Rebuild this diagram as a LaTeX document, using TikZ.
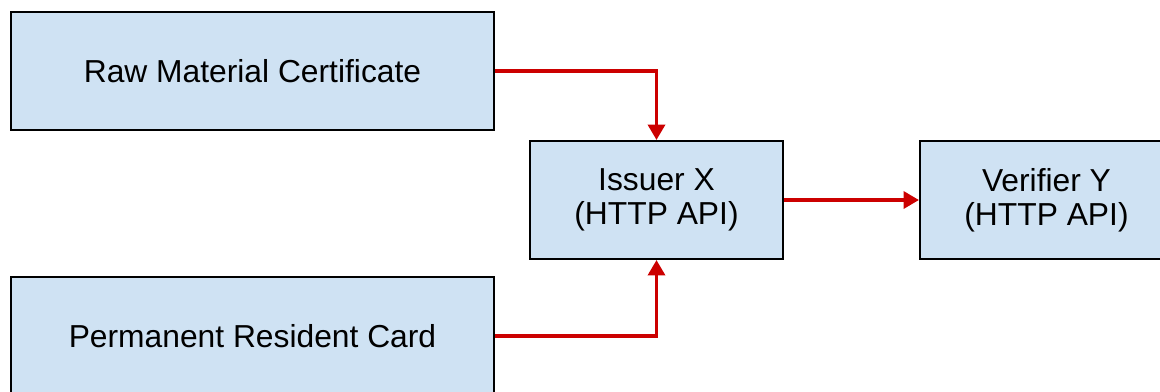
\documentclass[tikz,border=0pt]{standalone}
\usepackage{fontspec}
\setmainfont{Liberation Sans}
\usetikzlibrary{arrows.meta}

\definecolor{boxblue}{RGB}{207,226,243}
\definecolor{flowred}{RGB}{204,0,0}

\begin{document}
\begin{tikzpicture}[x=0.025cm, y=-0.025cm,
  every node/.style = {shape=rectangle, draw=black, line width=1.4pt,
    fill=boxblue, align=center, inner sep=0pt,
    minimum height=118*0.025cm,
    font=\fontsize{22.6}{24.2}\selectfont},
  wide/.style = {minimum width=483*0.025cm},
  narrow/.style = {minimum width=253*0.025cm},
  flow/.style = {draw=flowred, line width=2.7pt,
    -{Triangle[length=11pt, width=12pt]}}]
  \clip (0,0) rectangle (1160,391);
  \node[wide] (rmc) at (252.5,71) {Raw Material Certificate};
  \node[wide] (prc) at (252.5,336) {Permanent Resident Card};
  \node[narrow] (iss) at (656.5,200) {Issuer X\\ (HTTP API)};
  \node[narrow] (ver) at (1046.5,200) {Verifier Y\\ (HTTP API)};

  \draw[flow] (rmc.east) -| (iss.north);
  \draw[flow] (prc.east) -| (iss.south);
  \draw[flow] (iss.east) -- (ver.west);

\end{tikzpicture}
\end{document}
